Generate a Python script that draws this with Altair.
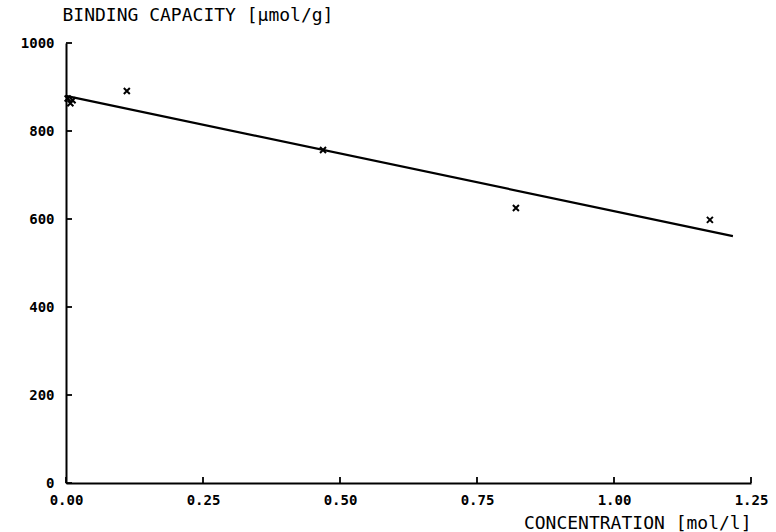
import altair as alt
import pandas as pd

# measured points
conc = [0.003, 0.008, 0.012, 0.111, 0.469, 0.821, 1.175]
capacity = [874, 863, 870, 891, 757, 625, 598]

# fitted regression line (endpoints)
fit_x = [0.0, 1.217]
fit_y = [880, 561]

y_ticks = [0, 200, 400, 600, 800, 1000]
x_ticks = [0.0, 0.25, 0.5, 0.75, 1.0, 1.25]

pts = pd.DataFrame({"c": conc, "b": capacity})
fit = pd.DataFrame({"c": fit_x, "b": fit_y})
yt = pd.DataFrame({"v": y_ticks})
xt = pd.DataFrame({"v": x_ticks})

FONT = "DejaVu Sans Mono"

xscale = alt.Scale(domain=[0, 1.25], nice=False, zero=False)
yscale = alt.Scale(domain=[0, 1000], nice=False)

xaxis = alt.Axis(
    values=x_ticks, format=".2f", ticks=False, grid=False,
    domainColor="black", domainWidth=2,
    labelFont=FONT, labelFontWeight="bold", labelFontSize=14, labelColor="black",
    labelPadding=10, labelFlush=False,
    title="CONCENTRATION [mol/l]", titleFont=FONT, titleFontSize=18,
    titleFontWeight="normal", titleColor="black",
    titleAnchor="end", titleAlign="right", titleX=685, titleY=31,
    titleBaseline="top",
)
yaxis = alt.Axis(
    values=y_ticks, format="d", ticks=False, grid=False,
    domainColor="black", domainWidth=2,
    labelFont=FONT, labelFontWeight="bold", labelFontSize=14, labelColor="black",
    labelPadding=12, labelFlush=False,
    title="BINDING CAPACITY [µmol/g]", titleFont=FONT, titleFontSize=18,
    titleFontWeight="normal", titleColor="black",
    titleAngle=0, titleAlign="left", titleBaseline="middle",
    titleX=-4, titleY=-28,
)

line = alt.Chart(fit).mark_line(color="black", strokeWidth=2.2).encode(
    x=alt.X("c:Q", scale=xscale, axis=xaxis),
    y=alt.Y("b:Q", scale=yscale, axis=yaxis),
)

points = alt.Chart(pts).mark_point(
    shape="M-1,-1L1,1M-1,1L1,-1", filled=False, color="black",
    strokeWidth=2, size=36, opacity=1,
).encode(
    x=alt.X("c:Q", scale=xscale),
    y=alt.Y("b:Q", scale=yscale),
)

ytick_marks = alt.Chart(yt).mark_rule(color="black", strokeWidth=1.8).encode(
    y=alt.Y("v:Q", scale=yscale),
    x=alt.value(0),
    x2=alt.value(6),
)

xtick_marks = alt.Chart(xt).mark_rule(color="black", strokeWidth=1.8).encode(
    x=alt.X("v:Q", scale=xscale),
    y=alt.value(440),
    y2=alt.value(434),
)

chart = alt.layer(line, points, ytick_marks, xtick_marks).properties(
    width=685, height=440,
    autosize=alt.AutoSizeParams(type="none"),
    padding={"left": 66, "top": 43, "right": 25, "bottom": 49},
    background="white",
).configure_view(stroke=None)

chart.save("out.html", embed_options={"renderer": "svg", "actions": False})
